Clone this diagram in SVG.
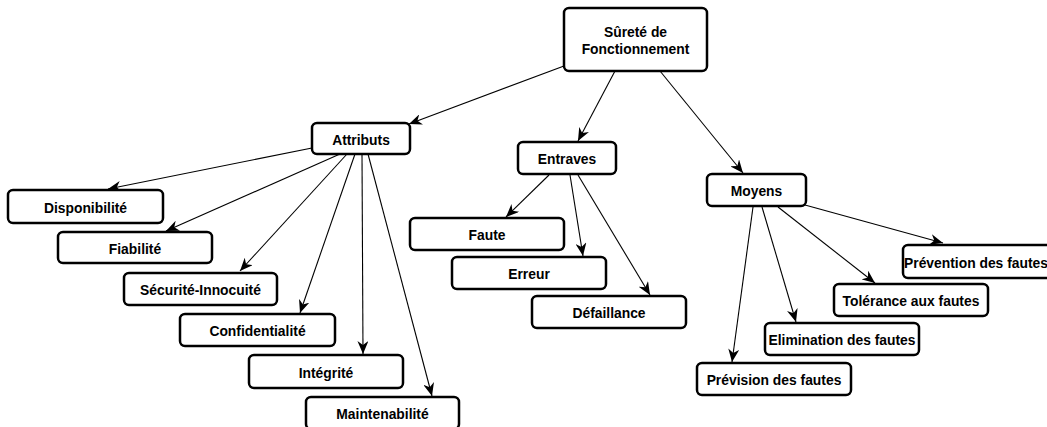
<svg xmlns="http://www.w3.org/2000/svg" width="1047" height="427" viewBox="0 0 1047 427">
<defs>
<marker id="ah" markerWidth="13" markerHeight="11" refX="13" refY="5.5" orient="auto" markerUnits="userSpaceOnUse">
<path d="M0,0 L13,5.5 L0,11 L4,5.5 Z" fill="#000"/>
</marker>
<style>
.box{fill:#fff;stroke:#000;stroke-width:2.5}
.t{font-family:"Liberation Sans",Arial,sans-serif;font-weight:bold;font-size:15.4px;fill:#000;text-anchor:middle;transform-box:fill-box;transform-origin:center;transform:scaleX(0.9)}
.c{stroke:#000;stroke-width:1.1;fill:none;marker-end:url(#ah)}
</style>
</defs>
<rect width="1047" height="427" fill="#fff"/>
<g id="connectors">
<line class="c" x1="564" y1="66" x2="409" y2="124"/>
<line class="c" x1="615" y1="71" x2="578" y2="141"/>
<line class="c" x1="660" y1="71" x2="743" y2="173"/>
<line class="c" x1="312" y1="148" x2="108" y2="189"/>
<line class="c" x1="340" y1="154" x2="166" y2="231"/>
<line class="c" x1="347" y1="154" x2="240" y2="271"/>
<line class="c" x1="355" y1="154" x2="300" y2="313"/>
<line class="c" x1="362" y1="154" x2="363" y2="354"/>
<line class="c" x1="368" y1="154" x2="432" y2="396"/>
<line class="c" x1="549" y1="175" x2="506" y2="217"/>
<line class="c" x1="570" y1="175" x2="583" y2="256"/>
<line class="c" x1="578" y1="175" x2="650" y2="295"/>
<line class="c" x1="805" y1="205" x2="943" y2="243"/>
<line class="c" x1="778" y1="207" x2="875" y2="283"/>
<line class="c" x1="762" y1="207" x2="796" y2="322"/>
<line class="c" x1="753" y1="207" x2="732" y2="362"/>
</g>
<g id="root"><rect class="box" x="564" y="8" width="143" height="63" rx="5"/><text class="t" x="635.5" y="37.5">Sûreté de</text><text class="t" x="635.5" y="54.5">Fonctionnement</text></g>
<g id="attributs"><rect class="box" x="312" y="123" width="98" height="31" rx="5"/><text class="t" x="361" y="145">Attributs</text></g>
<g id="disponibilite"><rect class="box" x="8" y="190" width="155" height="33" rx="5"/><text class="t" x="85.5" y="213">Disponibilité</text></g>
<g id="fiabilite"><rect class="box" x="58" y="232" width="154" height="31" rx="5"/><text class="t" x="135" y="254">Fiabilité</text></g>
<g id="securite"><rect class="box" x="124" y="273" width="153" height="32" rx="5"/><text class="t" x="200.5" y="295.5">Sécurité-Innocuité</text></g>
<g id="confidentialite"><rect class="box" x="180" y="314" width="155" height="32" rx="5"/><text class="t" x="257.5" y="336.5">Confidentialité</text></g>
<g id="integrite"><rect class="box" x="249" y="355" width="154" height="33" rx="5"/><text class="t" x="326" y="378">Intégrité</text></g>
<g id="maintenabilite"><rect class="box" x="306" y="397" width="153" height="32" rx="5"/><text class="t" x="382.5" y="419.5">Maintenabilité</text></g>
<g id="entraves"><rect class="box" x="518" y="142" width="98" height="32" rx="5"/><text class="t" x="567" y="164.5">Entraves</text></g>
<g id="faute"><rect class="box" x="410" y="218" width="154" height="32" rx="5"/><text class="t" x="487" y="240.5">Faute</text></g>
<g id="erreur"><rect class="box" x="452" y="257" width="154" height="32" rx="5"/><text class="t" x="529" y="279.5">Erreur</text></g>
<g id="defaillance"><rect class="box" x="532" y="296" width="154" height="32" rx="5"/><text class="t" x="609" y="318.5">Défaillance</text></g>
<g id="moyens"><rect class="box" x="707" y="174" width="99" height="32" rx="5"/><text class="t" x="756.5" y="196.5">Moyens</text></g>
<g id="prevention"><rect class="box" x="903" y="245" width="155" height="33" rx="5"/><text class="t" x="976" y="268">Prévention des fautes</text></g>
<g id="tolerance"><rect class="box" x="834" y="284" width="154" height="32" rx="5"/><text class="t" x="911" y="306.5">Tolérance aux fautes</text></g>
<g id="elimination"><rect class="box" x="765" y="323" width="154" height="32" rx="5"/><text class="t" x="842" y="345.5">Elimination des fautes</text></g>
<g id="prevision"><rect class="box" x="697" y="363" width="154" height="32" rx="5"/><text class="t" x="774" y="385.5">Prévision des fautes</text></g>
</svg>
